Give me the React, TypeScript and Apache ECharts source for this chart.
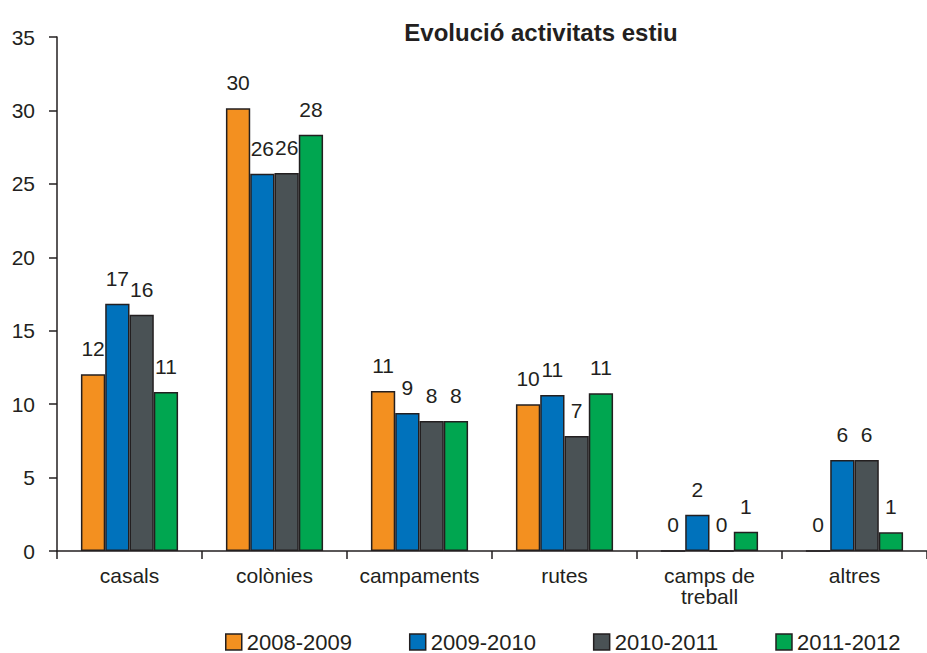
import React, { useEffect, useRef } from "react";
import * as echarts from "echarts";

const categories = ["casals", "colònies", "campaments", "rutes", "camps de\ntreball", "altres"];
const seriesNames = ["2008-2009", "2009-2010", "2010-2011", "2011-2012"];
const s2008 = [12.03, 30.14, 10.9, 10.0, 0, 0];
const s2009 = [16.84, 25.69, 9.4, 10.62, 2.47, 6.2];
const s2010 = [16.09, 25.74, 8.85, 7.83, 0, 6.2];
const s2011 = [10.83, 28.35, 8.85, 10.74, 1.31, 1.27];
const labels2008 = [12, 30, 11, 10, 0, 0];
const labels2009 = [17, 26, 9, 11, 2, 6];
const labels2010 = [16, 26, 8, 7, 0, 6];
const labels2011 = [11, 28, 8, 11, 1, 1];
const colors = ["#F39020", "#0072BC", "#4A5255", "#00A650"];
const yTicks = { min: 0, max: 35, interval: 5 };

const FONT = "'Liberation Sans', Arial, sans-serif";
const INK = "#231F20";

export default function App() {
  const ref = useRef<HTMLDivElement>(null);
  useEffect(() => {
    if (!ref.current) return;
    const chart = echarts.init(ref.current, undefined, { renderer: "svg" });
    const data = [s2008, s2009, s2010, s2011];
    const labels = [labels2008, labels2009, labels2010, labels2011];
    chart.setOption({
      animation: false,
      title: {
        text: "Evolució activitats estiu",
        left: 536,
        top: 15,
        textAlign: "center",
        textStyle: { fontFamily: FONT, fontSize: 24, fontWeight: "bold", color: INK },
      },
      legend: {
        data: seriesNames,
        left: 220,
        top: 626,
        itemWidth: 16,
        itemHeight: 16,
        itemGap: 57,
        icon: "rect",
        textStyle: { fontFamily: FONT, fontSize: 22, color: INK },
        itemStyle: { borderColor: INK, borderWidth: 1.5 },
      },
      grid: { left: 57, top: 37, width: 883, height: 514, containLabel: false },
      xAxis: {
        type: "category",
        data: categories,
        axisLine: { lineStyle: { color: INK, width: 1.5 } },
        axisTick: { show: true, length: 8, lineStyle: { color: INK, width: 1.5 } },
        axisLabel: { fontFamily: FONT, fontSize: 21, color: INK, margin: 14, lineHeight: 21, interval: 0 },
      },
      yAxis: {
        type: "value",
        min: yTicks.min,
        max: yTicks.max,
        interval: yTicks.interval,
        splitLine: { show: false },
        axisLine: { show: true, lineStyle: { color: INK, width: 1.5 } },
        axisTick: { show: true, length: 8, lineStyle: { color: INK, width: 1.5 } },
        axisLabel: { fontFamily: FONT, fontSize: 21, color: INK, margin: 22, padding: [0, 0, 5, 0] },
      },
      series: seriesNames.map((name, i) => ({
        name,
        type: "bar",
        data: data[i],
        barGap: "0%",
        barCategoryGap: "33%",
        itemStyle: { color: colors[i], borderColor: INK, borderWidth: 1.5 },
        label: {
          show: true,
          position: "top",
          distance: 15,
          fontFamily: FONT,
          fontSize: 21,
          color: INK,
          formatter: (p: any) => String(labels[i][p.dataIndex]),
        },
      })),
    });
    return () => chart.dispose();
  }, []);
  return <div ref={ref} style={{ width: 927, height: 653, position: "absolute", left: 0, top: 0 }} />;
}
